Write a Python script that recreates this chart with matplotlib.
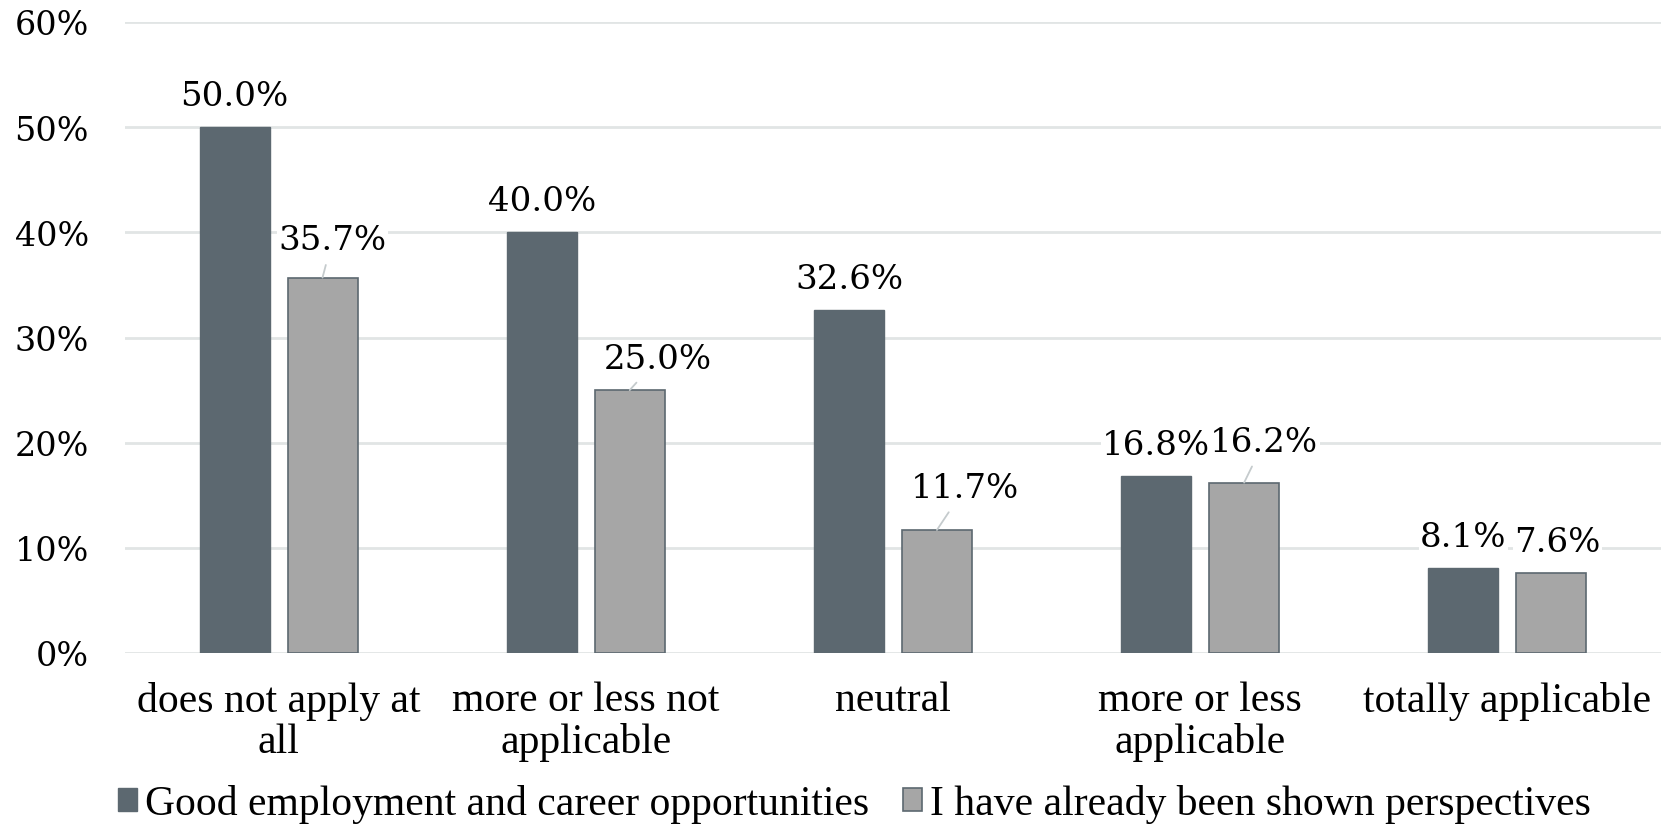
import matplotlib.pyplot as plt
import numpy as np

categories = ['does not apply at\nall', 'more or less not\napplicable', 'neutral',
              'more or less\napplicable', 'totally applicable']
career = [50.0, 40.0, 32.6, 16.8, 8.1]
perspectives = [35.7, 25.0, 11.7, 16.2, 7.6]
series_names = ['Good employment and career opportunities',
                'I have already been shown perspectives']
y_ticks = [0, 10, 20, 30, 40, 50, 60]

dark = '#5c6870'
light = '#a6a6a6'
grid_c = '#e1e5e5'
num_font = 'DejaVu Serif'
txt_font = 'Liberation Serif'

fig = plt.figure(figsize=(16.61, 8.28), dpi=100)
ax = fig.add_axes([125 / 1661, 1 - 654 / 828, (1661 - 125) / 1661, (654 - 23) / 828])

x = np.arange(len(categories))
w = 0.228
off = 0.143
b1 = ax.bar(x - off, career, w, color=dark, edgecolor=dark, linewidth=1, zorder=3,
            label=series_names[0])
b2 = ax.bar(x + off, perspectives, w, color=light, edgecolor=dark, linewidth=1.2, zorder=3,
            label=series_names[1])

ax.set_xlim(-0.5, len(categories) - 0.5)
ax.set_ylim(0, 60)
ax.set_yticks(y_ticks)
ax.set_yticklabels([f'{t}%' for t in y_ticks], fontsize=24, family=num_font)
ax.set_xticks(x)
ax.set_xticklabels(categories, fontsize=30, family=txt_font, linespacing=1.1)
ax.tick_params(axis='y', length=0, pad=26)
ax.tick_params(axis='x', length=0, pad=20)
ax.grid(axis='y', color=grid_c, linewidth=2, zorder=0)
for s in ax.spines.values():
    s.set_visible(False)

# value labels, some pushed aside with a leader line
for xi, v in zip(x - off, career):
    ax.annotate(f'{v:.1f}%', (xi, v), xytext=(0, 31), textcoords='offset pixels',
                ha='center', va='center', fontsize=24.5, family=num_font, zorder=5,
                bbox=dict(facecolor='white', edgecolor='none', pad=1))

shift = {0: (10, 38), 1: (28, 31), 2: (28, 42), 3: (20, 41), 4: (6, 31)}
for i, (xi, v) in enumerate(zip(x + off, perspectives)):
    dx, dy = shift.get(i, (0, 31))
    arrow = dict(arrowstyle='-', color='#c5cbcd', lw=1.3, shrinkA=6, shrinkB=0) if i < 4 else None
    ax.annotate(f'{v:.1f}%', (xi, v), xytext=(dx, dy), textcoords='offset pixels',
                ha='center', va='center', fontsize=24.5, family=num_font, zorder=5,
                arrowprops=arrow,
                bbox=dict(facecolor='white', edgecolor='none', pad=1))

leg = fig.legend(handles=[b1, b2], loc='center', bbox_to_anchor=(0.5 + 24 / 1661, 1 - 805 / 828),
                 ncol=2, frameon=False, prop={'family': txt_font, 'size': 30},
                 handlelength=0.45, handleheight=0.45, handletextpad=0.2, columnspacing=0.8,
                 borderpad=0.2)

plt.savefig('out.png', dpi=100)
